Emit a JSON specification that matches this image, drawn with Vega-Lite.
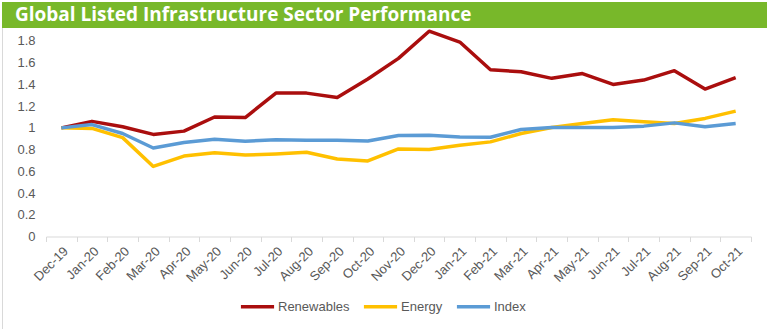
{
  "$schema": "https://vega.github.io/schema/vega-lite/v6.json",
  "autosize": {"type": "none"},
  "padding": {"left": 2, "top": 2, "right": 0, "bottom": 0},
  "width": 765,
  "height": 327,
  "background": "white",
  "config": {
    "view": {"stroke": "#d9d9d9", "strokeWidth": 1},
    "font": "Liberation Sans",
    "axisY": {"labelOverlap": false, "labelBound": false, "grid": false, "domain": false, "ticks": false, "labelColor": "#595959", "labelFontSize": 13, "labelPadding": 11, "title": null}
  },
  "datasets": {
    "perf": [
      {"month": "Dec-19", "series": "Renewables", "value": 1.0},
      {"month": "Jan-20", "series": "Renewables", "value": 1.06},
      {"month": "Feb-20", "series": "Renewables", "value": 1.01},
      {"month": "Mar-20", "series": "Renewables", "value": 0.94},
      {"month": "Apr-20", "series": "Renewables", "value": 0.97},
      {"month": "May-20", "series": "Renewables", "value": 1.1},
      {"month": "Jun-20", "series": "Renewables", "value": 1.095},
      {"month": "Jul-20", "series": "Renewables", "value": 1.32},
      {"month": "Aug-20", "series": "Renewables", "value": 1.32},
      {"month": "Sep-20", "series": "Renewables", "value": 1.28},
      {"month": "Oct-20", "series": "Renewables", "value": 1.45},
      {"month": "Nov-20", "series": "Renewables", "value": 1.64},
      {"month": "Dec-20", "series": "Renewables", "value": 1.89},
      {"month": "Jan-21", "series": "Renewables", "value": 1.79},
      {"month": "Feb-21", "series": "Renewables", "value": 1.535},
      {"month": "Mar-21", "series": "Renewables", "value": 1.517},
      {"month": "Apr-21", "series": "Renewables", "value": 1.456},
      {"month": "May-21", "series": "Renewables", "value": 1.5},
      {"month": "Jun-21", "series": "Renewables", "value": 1.4},
      {"month": "Jul-21", "series": "Renewables", "value": 1.44},
      {"month": "Aug-21", "series": "Renewables", "value": 1.527},
      {"month": "Sep-21", "series": "Renewables", "value": 1.357},
      {"month": "Oct-21", "series": "Renewables", "value": 1.462},
      {"month": "Dec-19", "series": "Energy", "value": 1.0},
      {"month": "Jan-20", "series": "Energy", "value": 0.995},
      {"month": "Feb-20", "series": "Energy", "value": 0.91},
      {"month": "Mar-20", "series": "Energy", "value": 0.645},
      {"month": "Apr-20", "series": "Energy", "value": 0.74},
      {"month": "May-20", "series": "Energy", "value": 0.77},
      {"month": "Jun-20", "series": "Energy", "value": 0.75},
      {"month": "Jul-20", "series": "Energy", "value": 0.76},
      {"month": "Aug-20", "series": "Energy", "value": 0.776},
      {"month": "Sep-20", "series": "Energy", "value": 0.714},
      {"month": "Oct-20", "series": "Energy", "value": 0.695},
      {"month": "Nov-20", "series": "Energy", "value": 0.806},
      {"month": "Dec-20", "series": "Energy", "value": 0.8},
      {"month": "Jan-21", "series": "Energy", "value": 0.84},
      {"month": "Feb-21", "series": "Energy", "value": 0.871},
      {"month": "Mar-21", "series": "Energy", "value": 0.948},
      {"month": "Apr-21", "series": "Energy", "value": 1.003},
      {"month": "May-21", "series": "Energy", "value": 1.04},
      {"month": "Jun-21", "series": "Energy", "value": 1.074},
      {"month": "Jul-21", "series": "Energy", "value": 1.056},
      {"month": "Aug-21", "series": "Energy", "value": 1.04},
      {"month": "Sep-21", "series": "Energy", "value": 1.087},
      {"month": "Oct-21", "series": "Energy", "value": 1.154},
      {"month": "Dec-19", "series": "Index", "value": 1.0},
      {"month": "Jan-20", "series": "Index", "value": 1.03},
      {"month": "Feb-20", "series": "Index", "value": 0.948},
      {"month": "Mar-20", "series": "Index", "value": 0.815},
      {"month": "Apr-20", "series": "Index", "value": 0.865},
      {"month": "May-20", "series": "Index", "value": 0.896},
      {"month": "Jun-20", "series": "Index", "value": 0.877},
      {"month": "Jul-20", "series": "Index", "value": 0.89},
      {"month": "Aug-20", "series": "Index", "value": 0.886},
      {"month": "Sep-20", "series": "Index", "value": 0.886},
      {"month": "Oct-20", "series": "Index", "value": 0.88},
      {"month": "Nov-20", "series": "Index", "value": 0.93},
      {"month": "Dec-20", "series": "Index", "value": 0.933},
      {"month": "Jan-21", "series": "Index", "value": 0.917},
      {"month": "Feb-21", "series": "Index", "value": 0.914},
      {"month": "Mar-21", "series": "Index", "value": 0.985},
      {"month": "Apr-21", "series": "Index", "value": 1.003},
      {"month": "May-21", "series": "Index", "value": 1.003},
      {"month": "Jun-21", "series": "Index", "value": 1.003},
      {"month": "Jul-21", "series": "Index", "value": 1.016},
      {"month": "Aug-21", "series": "Index", "value": 1.046},
      {"month": "Sep-21", "series": "Index", "value": 1.01},
      {"month": "Oct-21", "series": "Index", "value": 1.04}
    ],
    "banner": [
      {"title": "Global Listed Infrastructure Sector Performance", "x0": 0, "x1": 1, "ytop": 2.159, "ybot": 1.92, "tx": 0.017, "ty": 2.04}
    ]
  },
  "layer": [
    {
      "data": {"name": "perf"},
      "mark": {"type": "line", "strokeWidth": 3.5, "strokeJoin": "round"},
      "encoding": {
        "x": {
          "field": "month", "type": "ordinal", "sort": null, "bandPosition": 0.5,
          "scale": {"type": "band", "range": [44, 749], "paddingInner": 0, "paddingOuter": 0},
          "axis": {
            "title": null, "orient": "bottom", "offset": -92.5,
            "tickBand": "extent", "domainColor": "#d9d9d9", "tickColor": "#d9d9d9", "tickSize": 5,
            "labelAngle": -45, "labelAlign": "right", "labelBaseline": "top",
            "labelColor": "#595959", "labelFontSize": 13, "labelPadding": 3
          }
        },
        "y": {
          "field": "value", "type": "quantitative",
          "scale": {"domain": [-0.852, 2.159], "nice": false, "zero": false},
          "axis": {
            "orient": "left", "offset": -44,
            "values": [0, 0.2, 0.4, 0.6, 0.8, 1, 1.2, 1.4, 1.6, 1.8],
            "labelExpr": "datum.value == 0 ? '0' : datum.value == 1 ? '1' : format(datum.value, '.1f')",
            "labelOverlap": false
          }
        },
        "color": {
          "field": "series", "type": "nominal",
          "scale": {"domain": ["Renewables", "Energy", "Index"], "range": ["#AA0E0E", "#FFC000", "#5B9BD5"]},
          "legend": {
            "title": null, "orient": "none", "direction": "horizontal",
            "legendX": 237, "legendY": 286,
            "symbolType": "stroke", "symbolSize": 1100, "symbolStrokeWidth": 3.5,
            "labelColor": "#595959", "labelFontSize": 13, "labelOffset": 2,
            "columnPadding": 6
          }
        }
      }
    },
    {
      "data": {"name": "banner"},
      "mark": {"type": "rect", "color": "#78B82A"},
      "encoding": {
        "x": {"field": "x0", "type": "quantitative", "scale": {"domain": [0, 1], "nice": false, "zero": false}, "axis": null},
        "x2": {"field": "x1"},
        "y": {"field": "ytop", "type": "quantitative", "axis": {
            "orient": "left", "offset": -44,
            "values": [0, 0.2, 0.4, 0.6, 0.8, 1, 1.2, 1.4, 1.6, 1.8],
            "labelExpr": "datum.value == 0 ? '0' : datum.value == 1 ? '1' : format(datum.value, '.1f')",
            "labelOverlap": false
          }},
        "y2": {"field": "ybot"}
      }
    },
    {
      "data": {"name": "banner"},
      "mark": {"type": "text", "align": "left", "baseline": "middle", "color": "white", "font": "Open Sans", "fontWeight": "bold", "fontSize": 19},
      "encoding": {
        "x": {"field": "tx", "type": "quantitative", "scale": {"domain": [0, 1], "nice": false, "zero": false}, "axis": null},
        "y": {"field": "ty", "type": "quantitative", "axis": {
            "orient": "left", "offset": -44,
            "values": [0, 0.2, 0.4, 0.6, 0.8, 1, 1.2, 1.4, 1.6, 1.8],
            "labelExpr": "datum.value == 0 ? '0' : datum.value == 1 ? '1' : format(datum.value, '.1f')",
            "labelOverlap": false
          }},
        "text": {"field": "title"}
      }
    }
  ],
  "resolve": {"scale": {"x": "independent"}}
}
